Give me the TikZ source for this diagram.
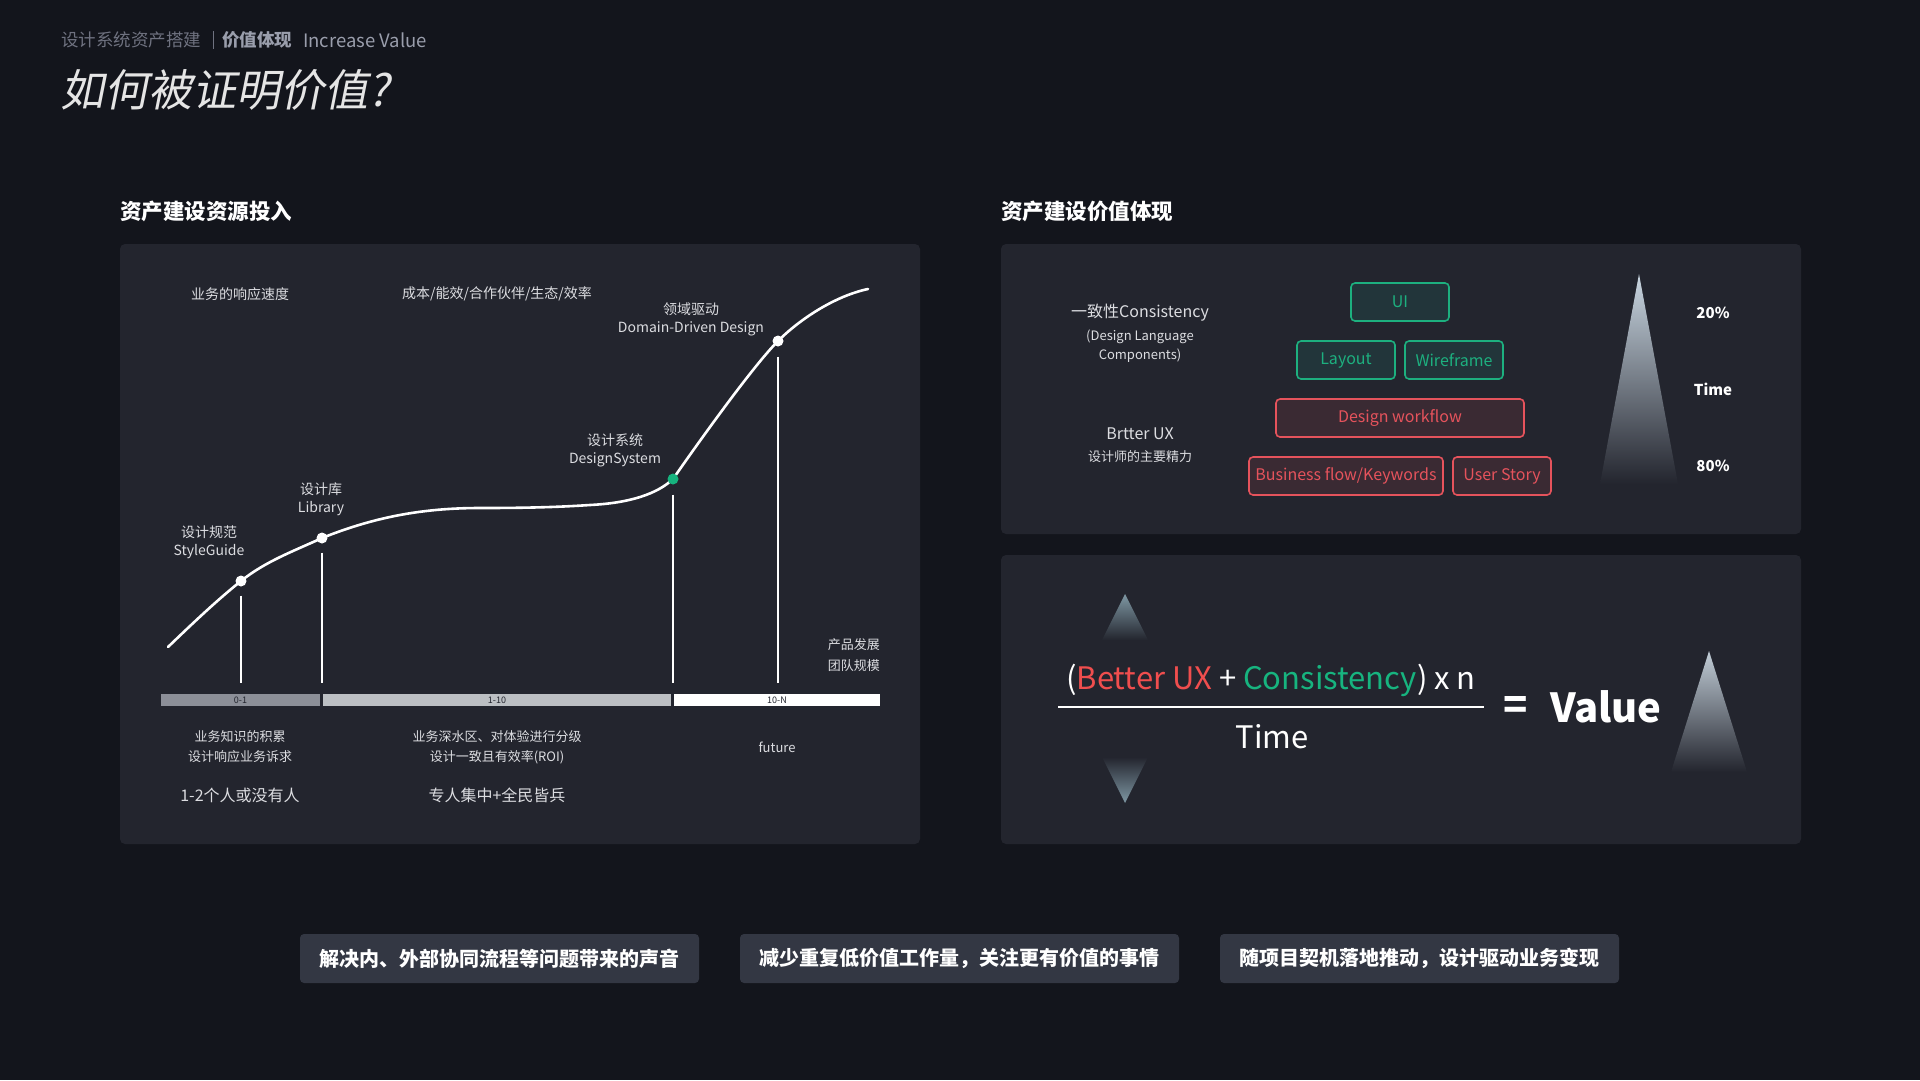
\documentclass[tikz,border=0pt]{standalone}
\usepackage{fontspec}
\setmainfont{Noto Sans CJK SC}
\newfontfamily\slantcjk{Noto Sans CJK SC}[FakeSlant=0.2]
\usetikzlibrary{calc}

\definecolor{bgc}{HTML}{13151C}
\definecolor{panelc}{HTML}{23252E}
\definecolor{pillc}{HTML}{333743}
\definecolor{txtc}{HTML}{DCDDE1}
\definecolor{greyc}{HTML}{6F7280}
\definecolor{greyb}{HTML}{9A9EAC}
\definecolor{greenc}{HTML}{1DB07F}
\definecolor{greenfill}{HTML}{22353A}
\definecolor{redc}{HTML}{E5535C}
\definecolor{redfill}{HTML}{3A2A33}
\definecolor{fred}{HTML}{F04E4E}
\definecolor{fgreen}{HTML}{17B47F}
\definecolor{barA}{HTML}{8C8F98}
\definecolor{barB}{HTML}{BCBFC3}
\definecolor{dotgreen}{HTML}{16B37E}
\definecolor{conetop}{HTML}{C9D6E1}
\definecolor{arrowtop}{HTML}{7F98A4}

\newcommand{\fs}[2]{\fontsize{#1}{#2}\selectfont}

\tikzset{
  panel/.style={fill=panelc, rounded corners=5pt},
  pill/.style={fill=pillc, rounded corners=4pt, minimum height=49pt, inner sep=0pt,
               text=white, font=\fs{20}{24}\bfseries},
  lbl/.style={text=txtc, font=\fs{14}{18}, align=center, inner sep=0pt},
  small/.style={text=txtc, font=\fs{13}{20}, align=center, inner sep=0pt},
  heading/.style={text=white, font=\fs{21.5}{26}\bfseries, anchor=west, inner sep=0pt},
  curve/.style={white, line width=2.6pt, line cap=round},
  vline/.style={white, line width=1.1pt},
  dot/.style={circle, fill=white, minimum size=11pt, inner sep=0pt},
  barbox/.style={minimum height=12pt, inner sep=0pt, text=panelc, font=\fs{9}{10}},
  gbox/.style={draw=greenc, fill=greenfill, line width=1.6pt, rounded corners=4pt,
               minimum height=38pt, inner sep=0pt, text=greenc, font=\fs{16}{20}},
  rbox/.style={draw=redc, fill=redfill, line width=1.6pt, rounded corners=4pt,
               minimum height=38pt, inner sep=0pt, text=redc, font=\fs{16}{20}},
  pct/.style={text=white, font=\fs{15}{18}\bfseries, inner sep=0pt},
  formula/.style={text=white, font=\fs{31}{36}, inner sep=0pt},
}

\begin{document}
\begin{tikzpicture}[x=1pt, y=-1pt]
\useasboundingbox (0,0) rectangle (1920,1080);
\fill[bgc] (0,0) rectangle (1920,1080);

% ---------- header ----------
\node[anchor=west, inner sep=0pt, text=greyc, font=\fs{17.5}{21}] (crumb) at (61,40) {设计系统资产搭建};
\coordinate (sepT) at (213,31);
\coordinate (sepB) at (213,49);
\draw[greyc, line width=0.9pt] (sepT) -- (sepB);
\node[anchor=west, inner sep=0pt, text=greyb, font=\fs{17.5}{21}\bfseries] (crumbB) at (222,40) {价值体现};
\node[anchor=west, inner sep=0pt, text=greyb, font=\fs{18.5}{21}] (crumbE) at (303,40) {Increase Value};
\node[anchor=west, inner sep=0pt, text=white!90!black, font=\slantcjk\fs{44}{50}] (title) at (60,90) {如何被证明价值?};

\node[heading] (h1) at (120,211) {资产建设资源投入};
\node[heading] (h2) at (1001,211) {资产建设价值体现};

% ---------- panels ----------
\fill[panel] (120,244) rectangle (920,844);
\fill[panel] (1001,244) rectangle (1801,534);
\fill[panel] (1001,555) rectangle (1801,844);

% ---------- growth curve ----------
\draw[curve] (168,647)
  .. controls (192,624) and (216,601) .. (241,581)
  .. controls (266,561) and (294,551) .. (322,538)
  .. controls (372,518) and (420,508) .. (480,508)
  .. controls (530,508) and (560,507) .. (590,505)
  .. controls (630,503) and (657,494) .. (673,479)
  .. controls (698,443) and (753,366) .. (778,341)
  .. controls (800,319) and (835,296) .. (868,289);

\node[dot] (sg) at (241,581) {};
\node[dot] (lib) at (322,538) {};
\node[dot, fill=dotgreen] (ds) at (673,479) {};
\node[dot] (ddd) at (778,341) {};

\coordinate (sgB) at (241,683);
\coordinate (libB) at (322,683);
\coordinate (dsB) at (673,683);
\coordinate (dddB) at (778,683);
\draw[vline] ([yshift=-9pt]sg.south) -- (sgB);
\draw[vline] ([yshift=-9pt]lib.south) -- (libB);
\draw[vline] ([yshift=-10pt]ds.south) -- (dsB);
\draw[vline] ([yshift=-10pt]ddd.south) -- (dddB);

\node[lbl] (tResp) at (240,294) {业务的响应速度};
\node[lbl] (tCost) at (497,294) {成本/能效/合作伙伴/生态/效率};
\node[lbl] (tDDD) at (691,319) {领域驱动\\Domain-Driven Design};
\node[lbl] (tDS) at (615,450) {设计系统\\DesignSystem};
\node[lbl] (tLib) at (321,499) {设计库\\Library};
\node[lbl] (tSG) at (209,542) {设计规范\\StyleGuide};
\node[small, anchor=east, align=right, font=\fs{13}{21}] (tTeam) at (880,655.5) {产品发展\\团队规模};

% stage bar
\node[barbox, fill=barA, minimum width=159pt] (b1) at (240.5,700) {0-1};
\node[barbox, fill=barB, minimum width=348pt] (b2) at (497,700) {1-10};
\node[barbox, fill=white, minimum width=206pt] (b3) at (777,700) {10-N};

\node[small] (s1) at (240,747) {业务知识的积累\\设计响应业务诉求};
\node[small] (s2) at (497,747) {业务深水区、对体验进行分级\\设计一致且有效率(ROI)};
\node[small] (s3) at (777,747) {future};
\node[lbl, font=\fs{16}{20}] (p1) at (240,795) {1-2个人或没有人};
\node[lbl, font=\fs{16}{20}] (p2) at (497,795) {专人集中+全民皆兵};

% ---------- value layers ----------
\node[lbl, font=\fs{16}{20}] (cons) at (1140,313) {一致性Consistency};
\node[small, font=\fs{13}{19}] (consSub) at (1140,346.5) {(Design Language\\Components)};
\node[lbl, font=\fs{16}{20}] (ux) at (1140,434) {Brtter UX};
\node[small] (uxSub) at (1140,457) {设计师的主要精力};

\node[gbox, minimum width=98pt] (ui) at (1400,302) {UI};
\node[gbox, minimum width=98pt] (layout) at (1346,360) {Layout};
\node[gbox, minimum width=98pt] (wire) at (1454,360) {Wireframe};
\node[rbox, minimum width=248pt] (flow) at (1400,418) {Design workflow};
\node[rbox, minimum width=194pt] (biz) at (1346,476) {Business flow/Keywords};
\node[rbox, minimum width=98pt] (story) at (1502,476) {User Story};

\shade[top color=conetop, bottom color=panelc]
  (1639,274) -- (1678,484) -- (1600,484) -- cycle;
\node[pct] (p20) at (1713,313) {20\%};
\node[pct] (pTime) at (1713,389) {Time};
\node[pct] (p80) at (1713,466) {80\%};

% ---------- value formula ----------
\shade[top color=arrowtop, bottom color=panelc]
  (1125,594) -- (1148,640) -- (1102,640) -- cycle;
\shade[top color=panelc, bottom color=arrowtop]
  (1102,757) -- (1148,757) -- (1125,803) -- cycle;
\shade[top color=conetop!90!gray, bottom color=panelc]
  (1709,651) -- (1747,772) -- (1671,772) -- cycle;

\node[formula] (num) at (1271,680)
  {(\textcolor{fred}{Better UX} + \textcolor{fgreen}{Consistency}) x n};
\coordinate (fracL) at (1058,707);
\coordinate (fracR) at (1484,707);
\draw[white, line width=1.4pt] (fracL) -- (fracR);
\node[formula] (den) at (1272,737) {Time};
\node[text=white, font=\fs{40}{46}\bfseries, inner sep=0pt] (eq) at (1516,708) {=};
\node[text=white, font=\fs{40}{46}\bfseries, inner sep=0pt, anchor=west] (val) at (1550,707) {Value};

% ---------- conclusions ----------
\node[pill, minimum width=399pt] (c1) at (499.5,958.5) {解决内、外部协同流程等问题带来的声音};
\node[pill, minimum width=439pt] (c2) at (959.5,958.5) {减少重复低价值工作量，关注更有价值的事情};
\node[pill, minimum width=399pt] (c3) at (1419.5,958.5) {随项目契机落地推动，设计驱动业务变现};
\end{tikzpicture}
\end{document}
